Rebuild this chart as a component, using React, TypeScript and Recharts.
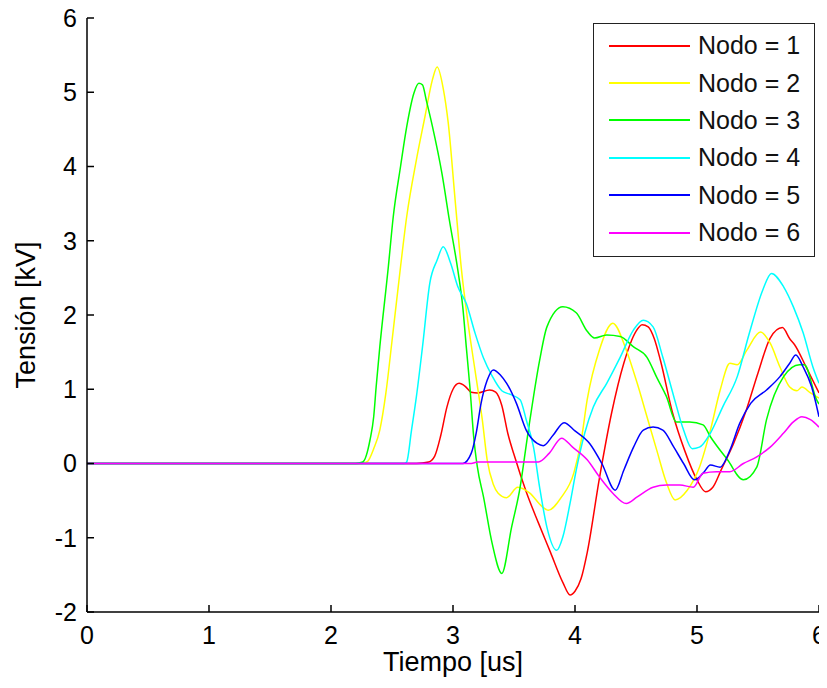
import React from "react";
import { LineChart, Line, XAxis, YAxis } from "recharts";

// Tiempo [us] / Tensión [kV] samples
const nodo1T = [0, 2.7, 2.8, 2.85, 2.9, 2.95, 3.0, 3.05, 3.1, 3.15, 3.2, 3.3, 3.35, 3.4, 3.45, 3.5, 3.6, 3.7, 3.8, 3.9, 3.96, 4.0, 4.05, 4.1, 4.2, 4.3, 4.4, 4.5, 4.55, 4.6, 4.65, 4.7, 4.8, 4.9, 5.0, 5.07, 5.13, 5.2, 5.3, 5.4, 5.5, 5.6, 5.7, 5.76, 5.8, 5.9, 6.0];
const nodo1V = [0, 0, 0.02, 0.1, 0.38, 0.76, 1.0, 1.08, 1.04, 0.96, 0.95, 0.99, 0.96, 0.78, 0.4, 0.12, -0.38, -0.8, -1.2, -1.6, -1.77, -1.72, -1.55, -1.2, -0.2, 0.68, 1.35, 1.78, 1.87, 1.84, 1.68, 1.39, 0.68, 0.17, -0.22, -0.38, -0.32, -0.08, 0.27, 0.7, 1.22, 1.69, 1.83, 1.68, 1.6, 1.28, 0.95];

const nodo2T = [0, 2.25, 2.3, 2.35, 2.4, 2.45, 2.5, 2.57, 2.62, 2.7, 2.77, 2.83, 2.87, 2.92, 2.96, 3.02, 3.07, 3.12, 3.18, 3.24, 3.28, 3.33, 3.37, 3.44, 3.53, 3.63, 3.73, 3.78, 3.89, 3.99, 4.05, 4.1, 4.2, 4.31, 4.42, 4.51, 4.59, 4.67, 4.75, 4.82, 4.92, 5.02, 5.11, 5.19, 5.27, 5.33, 5.41, 5.52, 5.6, 5.68, 5.76, 5.82, 5.86, 5.93, 6.0];
const nodo2V = [0, 0, 0.03, 0.2, 0.45, 0.95, 1.65, 2.65, 3.32, 4.09, 4.67, 5.16, 5.34, 5.05, 4.6, 3.5, 2.6, 1.93, 1.26, 0.59, 0.05, -0.28, -0.4, -0.46, -0.32, -0.4, -0.58, -0.63, -0.45, -0.13, 0.3, 0.86, 1.53, 1.89, 1.53, 1.08, 0.63, 0.18, -0.26, -0.49, -0.36, -0.05, 0.45, 0.99, 1.35, 1.33, 1.53, 1.77, 1.62, 1.3, 1.03, 0.98, 1.03, 0.95, 0.88];

const nodo3T = [0, 2.2, 2.26, 2.32, 2.35, 2.37, 2.4, 2.47, 2.51, 2.57, 2.62, 2.68, 2.72, 2.75, 2.78, 2.83, 2.91, 2.97, 3.04, 3.08, 3.11, 3.14, 3.17, 3.2, 3.25, 3.32, 3.4, 3.48, 3.55, 3.61, 3.71, 3.77, 3.9, 4.01, 4.1, 4.16, 4.26, 4.37, 4.48, 4.59, 4.67, 4.75, 4.83, 4.94, 5.05, 5.11, 5.25, 5.38, 5.49, 5.57, 5.71, 5.84, 5.88, 5.98, 6.0];
const nodo3V = [0, 0, 0.02, 0.32, 0.63, 1.03, 1.57, 2.65, 3.32, 4.0, 4.53, 4.99, 5.12, 5.1, 4.9, 4.55, 3.9, 3.28, 2.6, 2.11, 1.55, 1.0, 0.35, -0.05, -0.45, -1.07, -1.48, -0.86, -0.32, 0.36, 1.39, 1.84, 2.11, 2.03, 1.78, 1.69, 1.73, 1.71, 1.57, 1.43, 1.16, 0.9, 0.56, 0.56, 0.52, 0.36, 0.05, -0.22, -0.05, 0.59, 1.17, 1.33, 1.33, 0.86, 0.8];

const nodo4T = [0, 2.6, 2.62, 2.66, 2.7, 2.75, 2.81, 2.87, 2.92, 2.98, 3.04, 3.11, 3.18, 3.25, 3.32, 3.4, 3.47, 3.55, 3.6, 3.66, 3.71, 3.77, 3.85, 3.9, 3.96, 4.01, 4.08, 4.15, 4.26, 4.37, 4.48, 4.56, 4.64, 4.72, 4.81, 4.89, 4.96, 5.02, 5.11, 5.21, 5.33, 5.43, 5.54, 5.61, 5.71, 5.79, 5.87, 5.95, 6.0];
const nodo4V = [0, 0, 0.02, 0.45, 0.9, 1.57, 2.43, 2.74, 2.92, 2.7, 2.38, 2.15, 1.76, 1.42, 1.18, 0.98, 0.93, 0.86, 0.59, 0.22, -0.32, -0.86, -1.17, -0.99, -0.53, -0.09, 0.41, 0.76, 1.08, 1.43, 1.8, 1.93, 1.84, 1.43, 0.9, 0.45, 0.2, 0.22, 0.41, 0.76, 1.17, 1.76, 2.34, 2.56, 2.38, 2.11, 1.76, 1.3, 1.08];

const nodo5T = [0, 3.08, 3.15, 3.19, 3.23, 3.28, 3.33, 3.39, 3.44, 3.52, 3.6, 3.69, 3.74, 3.82, 3.91, 4.0, 4.12, 4.22, 4.33, 4.4, 4.48, 4.56, 4.64, 4.72, 4.81, 4.89, 4.98, 5.05, 5.11, 5.19, 5.27, 5.35, 5.44, 5.57, 5.68, 5.76, 5.81, 5.87, 5.94, 6.0];
const nodo5V = [0, 0, 0.14, 0.41, 0.81, 1.12, 1.26, 1.19, 1.08, 0.81, 0.45, 0.27, 0.24, 0.38, 0.55, 0.44, 0.27, 0.0, -0.36, -0.09, 0.22, 0.45, 0.49, 0.45, 0.22, 0.0, -0.22, -0.13, -0.02, -0.05, 0.18, 0.54, 0.81, 0.99, 1.17, 1.35, 1.46, 1.3, 1.03, 0.63];

const nodo6T = [0, 3.15, 3.2, 3.7, 3.79, 3.89, 3.98, 4.1, 4.2, 4.31, 4.42, 4.51, 4.64, 4.75, 4.86, 4.97, 5.05, 5.16, 5.27, 5.38, 5.49, 5.6, 5.71, 5.79, 5.86, 5.93, 6.0];
const nodo6V = [0, 0, 0.02, 0.02, 0.14, 0.34, 0.22, 0.05, -0.18, -0.4, -0.54, -0.45, -0.32, -0.29, -0.29, -0.32, -0.13, -0.11, -0.11, 0.0, 0.09, 0.22, 0.41, 0.56, 0.63, 0.59, 0.49];

const seriesNames = ["Nodo = 1", "Nodo = 2", "Nodo = 3", "Nodo = 4", "Nodo = 5", "Nodo = 6"];
const seriesColors = ["#ff0000", "#ffff00", "#00ff00", "#00ffff", "#0000ff", "#ff00ff"];
const xTicks = [0, 1, 2, 3, 4, 5, 6];
const yTicks = [-2, -1, 0, 1, 2, 3, 4, 5, 6];

const build = (ts: number[], vs: number[]) => ts.map((t, i) => ({ t, v: vs[i] }));
const seriesData = [
  build(nodo1T, nodo1V),
  build(nodo2T, nodo2V),
  build(nodo3T, nodo3V),
  build(nodo4T, nodo4V),
  build(nodo5T, nodo5V),
  build(nodo6T, nodo6V),
];

const FONT = '"Liberation Sans", Arial, sans-serif';

export default function App() {
  return (
    <div
      style={{
        position: "relative",
        width: 827,
        height: 680,
        marginTop: -8,
        marginLeft: -8,
        fontFamily: FONT,
        background: "#fff",
      }}
    >
      <LineChart
        width={827}
        height={680}
        margin={{ top: 18, right: 8, bottom: 8, left: 8 }}
        style={{ overflow: "visible" }}
      >
        <XAxis
          type="number"
          dataKey="t"
          domain={[0, 6]}
          ticks={xTicks}
          interval={0}
          allowDataOverflow
          height={60}
          stroke="#000"
          tickSize={-7}
          tickMargin={21}
          tick={{ fontSize: 25, fill: "#000", fontFamily: FONT }}
          axisLine={{ stroke: "#000", strokeWidth: 1.5 }}
          tickLine={{ stroke: "#000", strokeWidth: 1.5 }}
          label={{ value: "Tiempo [us]", position: "insideBottom", offset: 1, fontSize: 27, fill: "#000", fontFamily: FONT }}
        />
        <YAxis
          type="number"
          domain={[-2, 6]}
          ticks={yTicks}
          interval={0}
          allowDataOverflow
          width={79}
          stroke="#000"
          tickSize={-7}
          tickMargin={17}
          tick={{ fontSize: 25, fill: "#000", fontFamily: FONT }}
          axisLine={{ stroke: "#000", strokeWidth: 1.5 }}
          tickLine={{ stroke: "#000", strokeWidth: 1.5 }}
          label={{ value: "Tensión [kV]", angle: -90, position: "insideLeft", offset: 17, style: { textAnchor: "middle" }, fontSize: 27, fill: "#000", fontFamily: FONT }}
        />
        {seriesData.map((d, i) => (
          <Line
            key={seriesNames[i]}
            data={d}
            dataKey="v"
            name={seriesNames[i]}
            type="monotone"
            stroke={seriesColors[i]}
            strokeWidth={1.5}
            dot={false}
            activeDot={false}
            isAnimationActive={false}
          />
        ))}
      </LineChart>
      <div
        style={{
          position: "absolute",
          left: 593,
          top: 23,
          width: 222,
          height: 234,
          border: "1.5px solid #222",
          boxSizing: "border-box",
          background: "#fff",
          paddingTop: 3,
        }}
      >
        {seriesNames.map((n, i) => (
          <div key={n} style={{ display: "flex", alignItems: "center", height: 37.4 }}>
            <div style={{ marginLeft: 15, width: 81, borderTop: `2px solid ${seriesColors[i]}` }} />
            <span style={{ marginLeft: 8, fontSize: 25, color: "#111", lineHeight: "25px" }}>{n}</span>
          </div>
        ))}
      </div>
    </div>
  );
}
